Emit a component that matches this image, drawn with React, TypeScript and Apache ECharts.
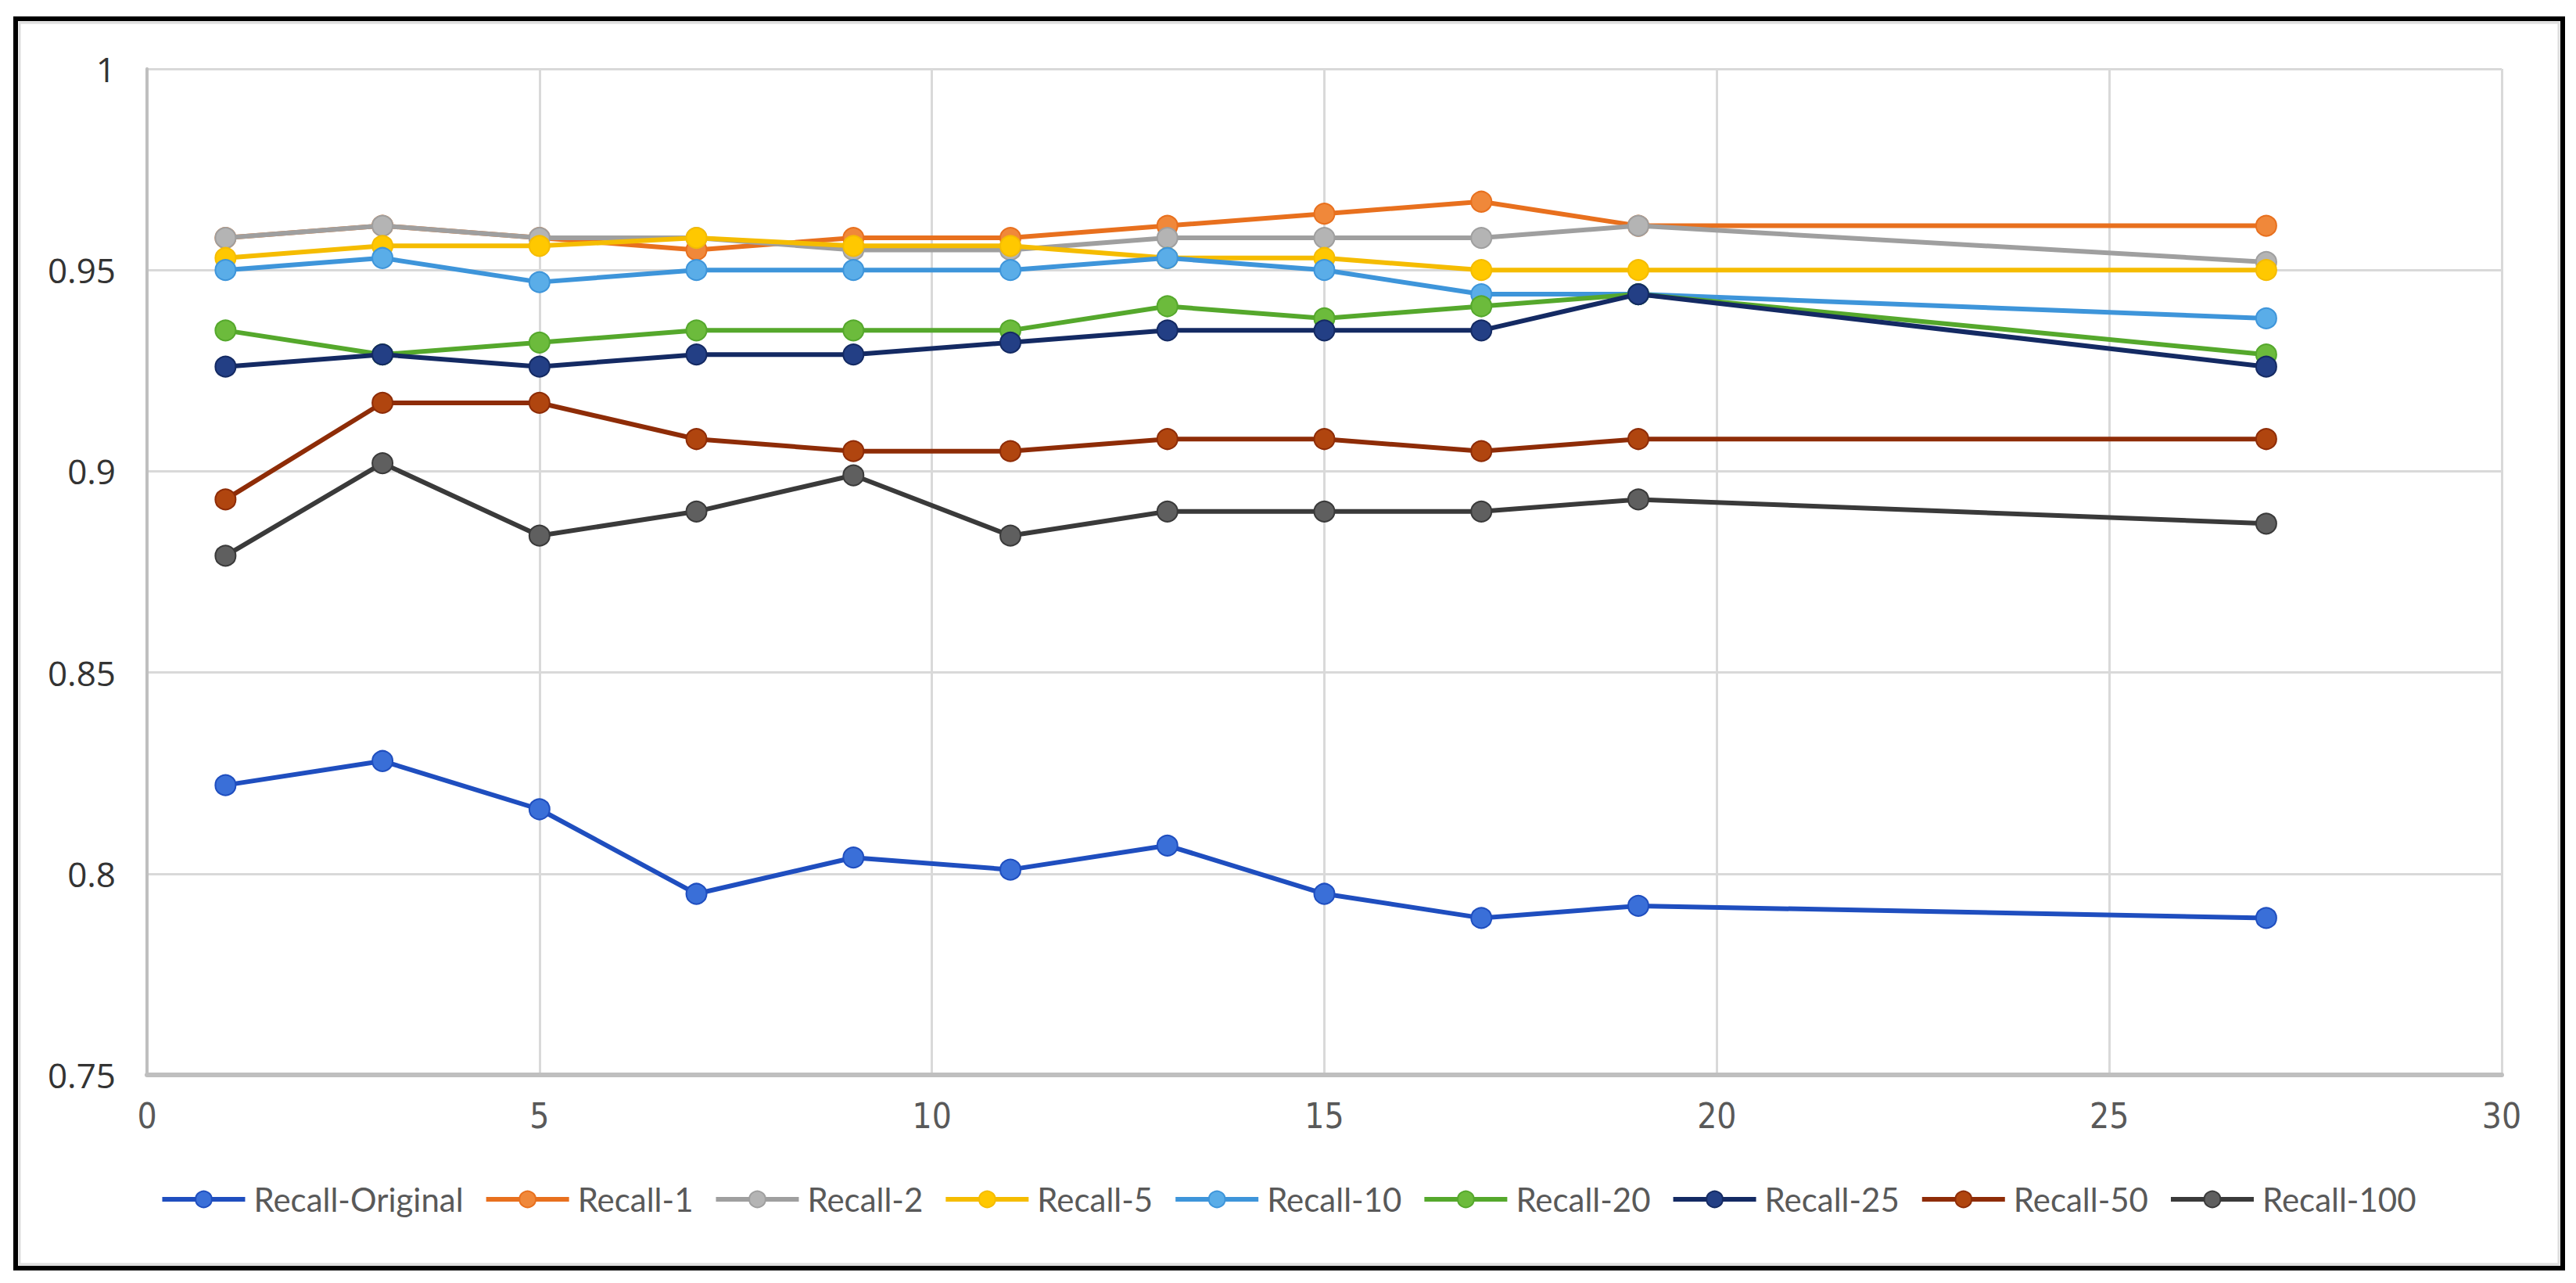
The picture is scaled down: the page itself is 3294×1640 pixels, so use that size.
import React, { useEffect, useRef } from "react";
import * as echarts from "echarts";

const xValues = [1, 3, 5, 7, 9, 11, 13, 15, 17, 19, 27];
const seriesNames = [
  "Recall-Original",
  "Recall-1",
  "Recall-2",
  "Recall-5",
  "Recall-10",
  "Recall-20",
  "Recall-25",
  "Recall-50",
  "Recall-100",
];
const recallOriginal = [0.822, 0.828, 0.816, 0.795, 0.804, 0.801, 0.807, 0.795, 0.789, 0.792, 0.789];
const recall1 = [0.958, 0.961, 0.958, 0.955, 0.958, 0.958, 0.961, 0.964, 0.967, 0.961, 0.961];
const recall2 = [0.958, 0.961, 0.958, 0.958, 0.955, 0.955, 0.958, 0.958, 0.958, 0.961, 0.952];
const recall5 = [0.953, 0.956, 0.956, 0.958, 0.956, 0.956, 0.953, 0.953, 0.95, 0.95, 0.95];
const recall10 = [0.95, 0.953, 0.947, 0.95, 0.95, 0.95, 0.953, 0.95, 0.944, 0.944, 0.938];
const recall20 = [0.935, 0.929, 0.932, 0.935, 0.935, 0.935, 0.941, 0.938, 0.941, 0.944, 0.929];
const recall25 = [0.926, 0.929, 0.926, 0.929, 0.929, 0.932, 0.935, 0.935, 0.935, 0.944, 0.926];
const recall50 = [0.893, 0.917, 0.917, 0.908, 0.905, 0.905, 0.908, 0.908, 0.905, 0.908, 0.908];
const recall100 = [0.879, 0.902, 0.884, 0.89, 0.899, 0.884, 0.89, 0.89, 0.89, 0.893, 0.887];
const allSeries = [recallOriginal, recall1, recall2, recall5, recall10, recall20, recall25, recall50, recall100];

const lineColors = ["#1F4EBF", "#E8701E", "#9F9F9F", "#F5BC00", "#3E95DA", "#55A82C", "#142A63", "#8E2C07", "#3A3A3A"];
const markerColors = ["#3A6FD8", "#F0883A", "#B4B4B4", "#FFC800", "#5AADE8", "#6CBB3C", "#233F85", "#B0450F", "#5F5F5F"];

const W = 3278;
const H = 1624;

export default function App() {
  const ref = useRef<HTMLDivElement>(null);
  useEffect(() => {
    if (!ref.current) return;
    const chart = echarts.init(ref.current, undefined, { renderer: "svg" });
    const series = seriesNames.map((name, i) => ({
      name,
      type: "line",
      data: xValues.map((x, j) => [x, allSeries[i][j]]),
      symbol: "circle",
      symbolSize: 26,
      lineStyle: { color: lineColors[i], width: 6 },
      itemStyle: { color: markerColors[i], borderColor: lineColors[i], borderWidth: 2 },
      z: 2 + i,
    }));
    chart.setOption({
      animation: false,
      backgroundColor: "#ffffff",
      grid: { left: 180, top: 80, right: 87, bottom: 258, containLabel: false },
      xAxis: {
        type: "value",
        min: 0,
        max: 30,
        interval: 5,
        axisLine: { show: true, lineStyle: { color: "#BFBFBF", width: 6 } },
        axisTick: { show: false },
        splitLine: { show: true, lineStyle: { color: "#D9D9D9", width: 3 } },
        axisLabel: {
          margin: 30,
          fontSize: 44,
          fontFamily: "'Liberation Sans Narrow', 'DejaVu Sans Condensed', Lato, sans-serif",
          color: "#595959",
        },
      },
      yAxis: {
        type: "value",
        min: 0.75,
        max: 1,
        interval: 0.05,
        axisLine: { show: true, lineStyle: { color: "#BFBFBF", width: 4 } },
        axisTick: { show: false },
        splitLine: { show: true, lineStyle: { color: "#D9D9D9", width: 3 } },
        axisLabel: {
          margin: 40,
          fontSize: 44,
          fontFamily: "'Open Sans', sans-serif",
          color: "#333333",
          formatter: (v: number) => String(+v.toFixed(2)),
        },
      },
      legend: {
        data: seriesNames,
        left: "center",
        top: 1499,
        itemWidth: 106,
        itemHeight: 26,
        itemGap: 26,
        lineStyle: { width: 6 },
        textStyle: {
          fontSize: 42,
          fontFamily: "Lato, sans-serif",
          color: "#595959",
          padding: [0, 0, 0, 6],
        },
      },
      graphic: [
        {
          type: "rect",
          shape: { x: 12, y: 16, width: 3257, height: 1597 },
          style: { fill: "none", stroke: "#000000", lineWidth: 6 },
          z: 100,
        },
        {
          type: "rect",
          shape: { x: 17, y: 21, width: 3247, height: 1587 },
          style: { fill: "none", stroke: "#DDDDDD", lineWidth: 3 },
          z: 100,
        },
      ],
      series,
    });
    return () => chart.dispose();
  }, []);
  return <div ref={ref} style={{ width: W, height: H }} />;
}
